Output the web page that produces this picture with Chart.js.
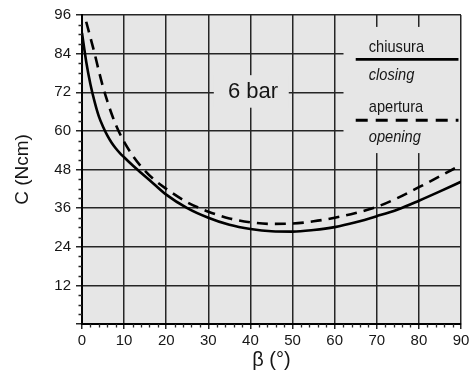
<!DOCTYPE html>
<html><head><meta charset="utf-8">
<script src="https://cdn.jsdelivr.net/npm/chart.js@4.4.1/dist/chart.umd.min.js"></script>
<style>html,body{margin:0;padding:0;background:#fff}#wrap{width:469px;height:378px;position:relative}</style>
</head><body><div id="wrap"><canvas id="c" width="469" height="378"></canvas></div>
<script>
// Data
const angleClosing  = [0,1,2,3,4,5,6,7,8,9,10,12,14,17,20,25,30,35,40,45,50,55,60,65,70,75,80,85,90];
const torqueClosing = [90.4,81.5,74.5,69,64.5,61.3,58.6,56.4,54.6,53.1,51.8,49.3,47,43.6,40.2,36,33,30.8,29.5,28.8,28.7,29.2,30.1,31.6,33.5,35.6,38.3,41.2,44.2];
const angleOpening  = [1,2,3,4,5,6,7,8,9,10,12,14,17,20,25,30,35,40,45,50,55,60,65,70,75,80,85,90];
const torqueOpening = [93.9,89,84,78.6,73.6,69.3,65.4,62,59.1,56.6,52.4,49,45,42,37.8,34.9,32.8,31.6,31.1,31.2,31.9,33,34.5,36.4,39.2,42.5,45.9,49.4];
const seriesLabels = ['chiusura','closing','apertura','opening'];
const pressureLabel = '6 bar';
const xTitle = 'β (°)';
const yTitle = 'C (Ncm)';
const xRange = [0, 90], xMajor = 10, xMinor = 2;
const yRange = [0, 96], yMajor = 12, yMinor = 3;

const INK = '#161616';
const GRID = '#262626';
const BG = '#e6e6e6';

const toPts = (xs, ys) => xs.map((x, i) => ({x, y: ys[i]}));

function narrowText(ctx, text, px, py, sx) {
  ctx.save(); ctx.translate(px, py); ctx.scale(sx, 1); ctx.fillText(text, 0, 0); ctx.restore();
}

const decor = {
  id: 'decor',
  beforeDraw(chart) {
    const {ctx, chartArea: a} = chart;
    ctx.save(); ctx.fillStyle = BG;
    ctx.fillRect(a.left, a.top, a.right - a.left, a.bottom - a.top);
    ctx.restore();
  },
  beforeDatasetsDraw(chart) {
    const {ctx, scales: {x, y}} = chart;
    ctx.save(); ctx.fillStyle = BG;
    const lx0 = x.getPixelForValue(62.1), lx1 = x.getPixelForValue(90) - 1;
    const ly0 = y.getPixelForValue(92.3), ly1 = y.getPixelForValue(53.1);
    ctx.fillRect(lx0, ly0, lx1 - lx0, ly1 - ly0);
    const bx0 = x.getPixelForValue(31.3), bx1 = x.getPixelForValue(49.1);
    const by0 = y.getPixelForValue(77.3), by1 = y.getPixelForValue(67.2);
    ctx.fillRect(bx0, by0, bx1 - bx0, by1 - by0);
    ctx.restore();
  },
  afterDatasetsDraw(chart) {
    const {ctx, scales: {x, y}} = chart;
    ctx.save();
    ctx.fillStyle = INK;
    ctx.textBaseline = 'middle'; ctx.textAlign = 'center';
    ctx.font = '22px "Liberation Sans", Arial, sans-serif';
    ctx.fillText(pressureLabel, x.getPixelForValue(40.6), y.getPixelForValue(72.2));
    const tx = x.getPixelForValue(68.1);
    ctx.textAlign = 'left'; ctx.textBaseline = 'alphabetic';
    const fontUp = '17px "Liberation Sans", Arial, sans-serif';
    const fontIt = 'italic 17px "Liberation Sans", Arial, sans-serif';
    ctx.font = fontUp; narrowText(ctx, seriesLabels[0], tx, y.getPixelForValue(84.4), 0.86);
    ctx.font = fontIt; narrowText(ctx, seriesLabels[1], tx, y.getPixelForValue(75.8), 0.86);
    ctx.font = fontUp; narrowText(ctx, seriesLabels[2], tx, y.getPixelForValue(65.9), 0.86);
    ctx.font = fontIt; narrowText(ctx, seriesLabels[3], tx, y.getPixelForValue(56.6), 0.86);
    ctx.strokeStyle = '#000'; ctx.lineWidth = 2.8;
    const sx0 = x.getPixelForValue(65), sx1 = x.getPixelForValue(89.4);
    ctx.beginPath(); ctx.moveTo(sx0, y.getPixelForValue(82.2)); ctx.lineTo(sx1, y.getPixelForValue(82.2)); ctx.stroke();
    ctx.setLineDash([12, 8]);
    ctx.beginPath(); ctx.moveTo(sx0, y.getPixelForValue(63.3)); ctx.lineTo(sx1, y.getPixelForValue(63.3)); ctx.stroke();
    ctx.restore();
  },
  afterDraw(chart) {
    const {ctx, scales: {x, y}, chartArea: a} = chart;
    ctx.save(); ctx.strokeStyle = GRID; ctx.lineWidth = 1.3;
    ctx.beginPath();
    for (let v = xRange[0]; v <= xRange[1]; v += xMinor) {
      if (v % xMajor === 0) continue;
      const p = Math.round(x.getPixelForValue(v)) + 0.5;
      ctx.moveTo(p, a.bottom); ctx.lineTo(p, a.bottom + 3.5);
    }
    for (let v = yRange[0]; v <= yRange[1]; v += yMinor) {
      if (v % yMajor === 0) continue;
      const p = Math.round(y.getPixelForValue(v)) + 0.5;
      ctx.moveTo(a.left, p); ctx.lineTo(a.left - 3.5, p);
    }
    ctx.stroke(); ctx.restore();
  }
};

new Chart(document.getElementById('c'), {
  type: 'line',
  data: {
    datasets: [
      { label: seriesLabels[0], data: toPts(angleClosing, torqueClosing), borderColor: '#000', borderWidth: 2.6,
        pointRadius: 0, fill: false, cubicInterpolationMode: 'monotone' },
      { label: seriesLabels[2], data: toPts(angleOpening, torqueOpening), borderColor: '#000', borderWidth: 2.6,
        borderDash: [11, 7], pointRadius: 0, fill: false, cubicInterpolationMode: 'monotone' }
    ]
  },
  options: {
    responsive: false, animation: false, devicePixelRatio: 1,
    layout: { padding: { top: 15, right: 8, left: 0, bottom: 0 } },
    plugins: { legend: { display: false }, tooltip: { enabled: false } },
    scales: {
      x: {
        type: 'linear', min: xRange[0], max: xRange[1],
        ticks: { stepSize: xMajor, color: INK, padding: 3, maxRotation: 0, autoSkip: false,
          font: { family: '"Liberation Sans", Arial, sans-serif', size: 15 } },
        grid: { color: GRID, lineWidth: 1.5, tickLength: 5 },
        border: { color: '#000', width: 2 },
        title: { display: true, text: xTitle, color: INK, padding: { top: 0, bottom: 6 },
          font: { family: '"Liberation Sans", Arial, sans-serif', size: 20 } },
        afterFit(s) { s.height = 54; s.paddingLeft = 0; s.paddingRight = 0; }
      },
      y: {
        type: 'linear', min: yRange[0], max: yRange[1],
        ticks: { stepSize: yMajor, color: INK, padding: 5,
          font: { family: '"Liberation Sans", Arial, sans-serif', size: 15 },
          callback: v => v === 0 ? '' : v },
        grid: { color: GRID, lineWidth: 1.5, tickLength: 6 },
        border: { color: '#000', width: 2 },
        title: { display: true, text: yTitle, color: INK, padding: { top: 11, bottom: 0 },
          font: { family: '"Liberation Sans", Arial, sans-serif', size: 19 } },
        afterFit(s) { s.width = 82; s.paddingTop = 0; s.paddingBottom = 0; }
      }
    }
  },
  plugins: [decor]
});
</script>
</body></html>
